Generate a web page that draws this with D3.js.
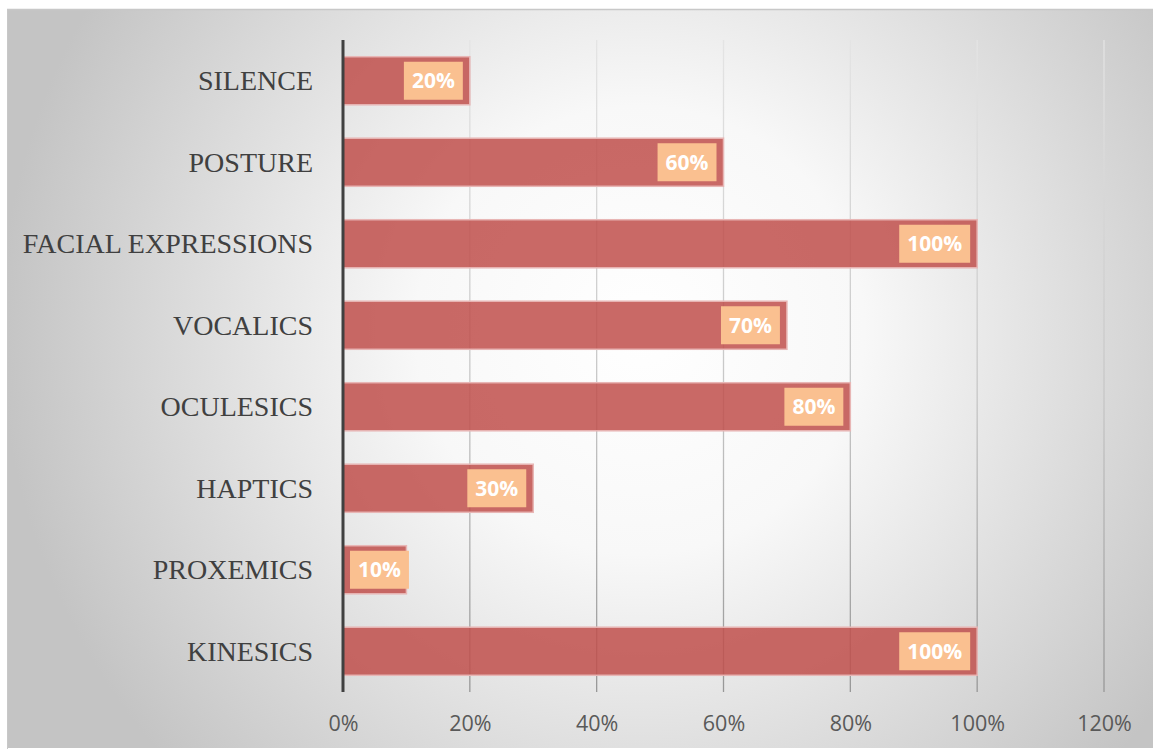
<!DOCTYPE html>
<html>
<head>
<meta charset="utf-8">
<script src="https://cdn.jsdelivr.net/npm/d3@7"></script>
<style>
  html, body { margin: 0; padding: 0; background: #ffffff; }
  svg { display: block; }
</style>
</head>
<body>
<svg id="chart" width="1153" height="749"></svg>
<script>
// Nonverbal communication channels and their share
const categories = ["SILENCE", "POSTURE", "FACIAL EXPRESSIONS", "VOCALICS", "OCULESICS", "HAPTICS", "PROXEMICS", "KINESICS"];
const values = [0.20, 0.60, 1.00, 0.70, 0.80, 0.30, 0.10, 1.00];
const tickValues = [0, 0.2, 0.4, 0.6, 0.8, 1.0, 1.2];

const W = 1153, H = 749;
const margin = { left: 343, right: 49, top: 40, bottom: 57 };

const svg = d3.select("#chart");
const defs = svg.append("defs");

// Soft radial backdrop for the chart area
const bg = defs.append("radialGradient")
  .attr("id", "bgGrad")
  .attr("gradientUnits", "userSpaceOnUse")
  .attr("cx", 640).attr("cy", 330).attr("r", 640);
bg.append("stop").attr("offset", "0%").attr("stop-color", "#ffffff");
bg.append("stop").attr("offset", "35%").attr("stop-color", "#f8f8f8");
bg.append("stop").attr("offset", "100%").attr("stop-color", "#c4c4c4");

// Gridlines fade from light at the top to darker near the axis
const gg = defs.append("linearGradient")
  .attr("id", "gridGrad")
  .attr("gradientUnits", "userSpaceOnUse")
  .attr("x1", 0).attr("y1", margin.top).attr("x2", 0).attr("y2", H - margin.bottom);
gg.append("stop").attr("offset", "0%").attr("stop-color", "#e4e4e4");
gg.append("stop").attr("offset", "55%").attr("stop-color", "#c6c6c6");
gg.append("stop").attr("offset", "100%").attr("stop-color", "#979797");

svg.append("rect")
  .attr("x", 7).attr("y", 9).attr("width", W - 7).attr("height", H - 10)
  .attr("fill", "url(#bgGrad)");
svg.append("line")
  .attr("x1", 7).attr("x2", W).attr("y1", 9.5).attr("y2", 9.5)
  .attr("stroke", "#c8c8c8").attr("stroke-width", 1.5);
svg.append("line")
  .attr("x1", 7.5).attr("x2", 7.5).attr("y1", 9).attr("y2", H)
  .attr("stroke", "#c8c8c8").attr("stroke-width", 1);

const x = d3.scaleLinear()
  .domain([0, 1.2])
  .range([margin.left, W - margin.right]);

const y = d3.scaleBand()
  .domain(categories)
  .range([margin.top, H - margin.bottom])
  .paddingInner(0.41)
  .paddingOuter(0.205);

// Vertical gridlines
svg.append("g")
  .selectAll("line")
  .data(tickValues.filter(d => d > 0))
  .join("line")
  .attr("x1", d => x(d)).attr("x2", d => x(d))
  .attr("y1", margin.top).attr("y2", H - margin.bottom)
  .attr("stroke", "url(#gridGrad)")
  .attr("stroke-width", 1.3);

// Bars
svg.append("g")
  .selectAll("rect")
  .data(categories)
  .join("rect")
  .attr("x", x(0))
  .attr("y", d => y(d))
  .attr("width", (d, i) => x(values[i]) - x(0))
  .attr("height", y.bandwidth())
  .attr("fill", "#c0504d")
  .attr("fill-opacity", 0.86)
  .attr("stroke", "#e8b6b5")
  .attr("stroke-width", 1.5);

// Category axis line
svg.append("line")
  .attr("x1", x(0)).attr("x2", x(0))
  .attr("y1", margin.top).attr("y2", H - margin.bottom)
  .attr("stroke", "#404040").attr("stroke-width", 3);

// Category labels
const yAxis = svg.append("g")
  .attr("transform", `translate(${x(0) - 30},0)`)
  .call(d3.axisLeft(y).tickSize(0).tickPadding(0));
yAxis.select(".domain").remove();
yAxis.selectAll("text")
  .attr("font-family", "'Liberation Serif', 'Times New Roman', serif")
  .attr("font-size", 28)
  .attr("fill", "#404040")
  .attr("dy", "0.33em");

// Value axis labels
const xAxis = svg.append("g")
  .attr("transform", `translate(0,${H - margin.bottom})`)
  .call(d3.axisBottom(x).tickValues(tickValues).tickFormat(d3.format(".0%")).tickSize(0).tickPadding(24));
xAxis.select(".domain").remove();
xAxis.selectAll("text")
  .attr("font-family", "'Open Sans', sans-serif")
  .attr("font-size", 21.5)
  .attr("fill", "#595959");

// Data labels in filled boxes at the inner end of each bar
const labels = svg.append("g")
  .selectAll("g")
  .data(categories)
  .join("g");

labels.each(function (d, i) {
  const g = d3.select(this);
  const t = g.append("text")
    .text(d3.format(".0%")(values[i]))
    .attr("font-family", "'Open Sans', sans-serif")
    .attr("font-weight", "bold")
    .attr("font-size", 21)
    .attr("fill", "#ffffff")
    .attr("text-anchor", "middle")
    .attr("dy", "0.36em");
  const tw = t.node().getComputedTextLength();
  const bw = tw + 16, bh = 38;
  let right = x(values[i]) - 7;
  let left = right - bw;
  if (left < x(0) + 7) { left = x(0) + 7; right = left + bw; }
  const cy = y(d) + y.bandwidth() / 2;
  g.insert("rect", "text")
    .attr("x", left).attr("y", cy - bh / 2)
    .attr("width", bw).attr("height", bh)
    .attr("fill", "#fac090");
  t.attr("x", (left + right) / 2).attr("y", cy);
});
</script>
</body>
</html>
